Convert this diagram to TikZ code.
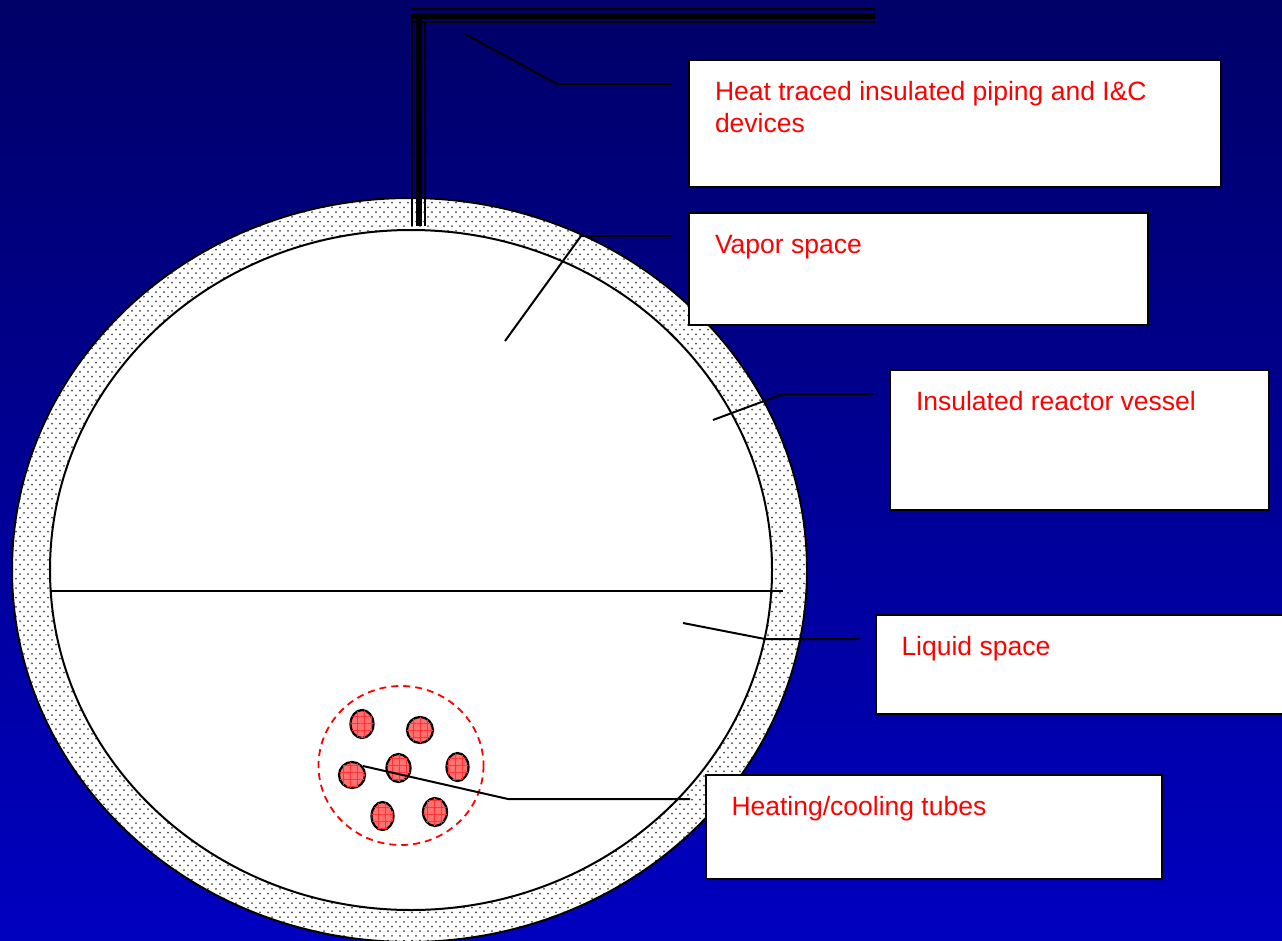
\documentclass[tikz,border=0pt]{standalone}
\usepackage{fontspec}
\setmainfont{Liberation Sans}
\usetikzlibrary{patterns,patterns.meta}
\definecolor{bgtop}{RGB}{0,0,104}
\definecolor{bgbot}{RGB}{0,0,192}
\definecolor{tubefill}{RGB}{255,112,112}
\newcommand{\boxtext}[3]{\parbox[t][#2pt][t]{#1pt}{\vspace*{18.5pt}\raggedright\strut #3}}
\newcommand{\speckat}[2]{%
  \pgfmathtruncatemacro\keepit{(((#1-409.5)/397.5)^2+((#2-570)/372)^2<1.01)&&(((#1-411)/361)^2+((#2-570)/340)^2>0.99)}%
  \ifnum\keepit=1 \fill[speck] (#1,#2) circle [radius=1];\fi}
\tikzset{
  wall/.style={draw=black,line width=2pt},
  leader/.style={draw=black,line width=2pt},
  pipethin/.style={draw=black,line width=2.6pt},
  pipethick/.style={draw=black,line width=6pt},
  callout/.style={draw=black,fill=white,line width=2pt,anchor=north west,inner xsep=26pt,inner ysep=0pt,outer sep=0pt,
    text=red,font=\fontsize{26.5}{32}\selectfont,align=left},
  tube/.style={draw=black,line width=2.2pt,fill=tubefill,postaction={pattern={Lines[angle=0,distance=7pt,line width=0.4pt]},pattern color=red!80!white},postaction={pattern={Lines[angle=90,distance=7pt,line width=0.4pt]},pattern color=red!80!white}},
  speck/.style={fill=black!72},
}
\begin{document}
\begin{tikzpicture}[x=1pt,y=-1pt]
\useasboundingbox (0,0) rectangle (1282,940);
\clip (0,0) rectangle (1282,940);
\shade[top color=bgtop,bottom color=bgbot] (0,0) rectangle (1282,940);
% vessel
\fill[white] (409.5,570) ellipse [x radius=397.5,y radius=372];
\begin{scope}
\clip (409.5,570) ellipse [x radius=397.5,y radius=372];
\foreach \r in {0,...,79}{
  \pgfmathsetmacro\rowa{198+9.4*\r}
  \pgfmathsetmacro\rowb{202.7+9.4*\r}
  \foreach \c in {0,...,99}{
    \pgfmathsetmacro\cola{12+8*\c}
    \pgfmathsetmacro\colb{16+8*\c}
    \speckat{\cola}{\rowa}
    \speckat{\colb}{\rowb}
  }
}
\end{scope}
\draw[wall] (409.5,570) ellipse [x radius=397.5,y radius=372];
\draw[wall,fill=white] (411,570) ellipse [x radius=361,y radius=340];
% pipes
\draw[pipethin] (411,9) -- (875,9);
\draw[pipethick] (412,15.5) -- (875,15.5);
\draw[pipethin] (412,22) -- (875,22);
\draw[pipethin] (412,14) -- (412,226);
\draw[pipethick] (418.5,15) -- (418.5,226);
\draw[pipethin] (425,22) -- (425,226);
% liquid level
\coordinate (lvlL) at (50,591);
\coordinate (lvlR) at (783,591);
\draw[leader] (lvlL) -- (lvlR);
% tube bundle
\draw[red,line width=1.8pt,dash pattern=on 7pt off 5pt] (401,765.5) ellipse [x radius=82.5,y radius=79.5];
\draw[tube] (362,724) ellipse [x radius=11.5,y radius=14];
\draw[tube] (420,730) ellipse [x radius=13,y radius=13];
\draw[tube] (398.5,768) ellipse [x radius=12,y radius=14];
\draw[tube] (457.5,767) ellipse [x radius=11,y radius=14];
\draw[tube] (352,775) ellipse [x radius=13,y radius=13];
\draw[tube] (382.5,816) ellipse [x radius=11,y radius=14];
\draw[tube] (435,812) ellipse [x radius=12,y radius=14];
% callouts
\node[callout] (heat) at (689,60) {\boxtext{480}{127}{Heat traced insulated piping and I\&C devices}};
\node[callout] (vapor) at (689,212.5) {\boxtext{407}{112.5}{Vapor space}};
\node[callout] (vessel) at (890,370) {\boxtext{327}{140}{Insulated reactor vessel}};
\node[callout] (liquid) at (875.5,615) {\boxtext{370}{99}{Liquid space}};
\node[callout] (tubes) at (705.5,775) {\boxtext{404}{104}{Heating/cooling tubes}};
% leaders
\coordinate (a1) at (465,34); \coordinate (a2) at (557,84); \coordinate (a3) at (672,84);
\draw[leader] (a1) -- (a2) -- (a3);
\coordinate (b1) at (505,341); \coordinate (b2) at (581,236); \coordinate (b3) at (672,236);
\draw[leader] (b1) -- (b2) -- (b3);
\coordinate (c1) at (713,420); \coordinate (c2) at (783,394); \coordinate (c3) at (873,394);
\draw[leader] (c1) -- (c2) -- (c3);
\coordinate (d1) at (683,623); \coordinate (d2) at (765,639); \coordinate (d3) at (860,639);
\draw[leader] (d1) -- (d2) -- (d3);
\coordinate (e1) at (363,766); \coordinate (e2) at (508,799); \coordinate (e3) at (690,799);
\draw[leader] (e1) -- (e2) -- (e3);
\end{tikzpicture}
\end{document}
